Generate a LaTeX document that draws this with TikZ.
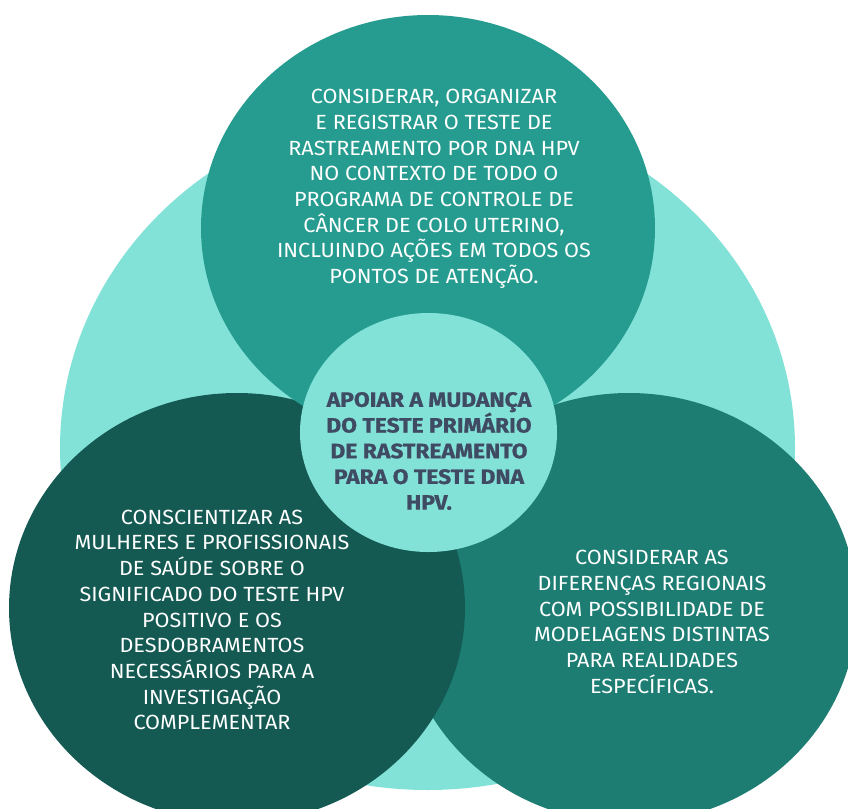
\documentclass[tikz,border=0pt]{standalone}
\usepackage{fontspec}
\setmainfont[FakeStretch=1.055]{Fira Sans}
\newfontfamily\centfont[FakeStretch=1.1, BoldFeatures={FakeBold=0.8}]{Fira Sans}
\usetikzlibrary{shapes.geometric}
\definecolor{bigc}{HTML}{83E2D8}
\definecolor{topc}{HTML}{269C90}
\definecolor{leftc}{HTML}{145A53}
\definecolor{rightc}{HTML}{1D7D73}
\definecolor{centc}{HTML}{83E2D8}
\definecolor{centtext}{HTML}{3F4A63}
\begin{document}
\begin{tikzpicture}[x=1pt,y=-1pt,
  disc/.style={ellipse, inner sep=0pt, draw=none},
  txt/.style={align=center, text=white, inner sep=0pt,
    font={\fontsize{20.5}{25.7}\selectfont}},
  ctxt/.style={align=center, text=centtext, inner sep=0pt,
    font={\centfont\fontsize{20.8}{25.7}\selectfont\bfseries}}]
\useasboundingbox (0,0) rectangle (848,808);
\node[disc, fill=bigc, minimum width=735pt, minimum height=684pt] (big) at (427.5,448) {};
\node[disc, fill=rightc, minimum width=456pt, minimum height=430pt] (rightdisc) at (629,608) {};
\node[disc, fill=leftc, minimum width=456pt, minimum height=430pt] (leftdisc) at (237,608) {};
\node[disc, fill=topc, minimum width=454pt, minimum height=426pt] (topdisc) at (428,228) {};
\node[disc, fill=centc, minimum width=257pt, minimum height=239pt] (centdisc) at (428.5,432.5) {};
\node[txt] (toptext) at (434,189) {CONSIDERAR, ORGANIZAR\\E REGISTRAR O TESTE DE\\RASTREAMENTO POR DNA HPV\\NO CONTEXTO DE TODO O\\PROGRAMA DE CONTROLE DE\\CÂNCER DE COLO UTERINO,\\INCLUINDO AÇÕES EM TODOS OS\\PONTOS DE ATENÇÃO.};
\node[txt] (lefttext) at (212,620) {CONSCIENTIZAR AS\\MULHERES E PROFISSIONAIS\\DE SAÚDE SOBRE O\\SIGNIFICADO DO TESTE HPV\\POSITIVO E OS\\DESDOBRAMENTOS\\NECESSÁRIOS PARA A\\INVESTIGAÇÃO\\COMPLEMENTAR};
\node[txt] (righttext) at (652,622) {CONSIDERAR AS\\DIFERENÇAS REGIONAIS\\COM POSSIBILIDADE DE\\MODELAGENS DISTINTAS\\PARA REALIDADES\\ESPECÍFICAS.};
\node[ctxt] (centtextnode) at (429,451) {APOIAR A MUDANÇA\\DO TESTE PRIMÁRIO\\DE RASTREAMENTO\\PARA O TESTE DNA\\HPV.};
\end{tikzpicture}
\end{document}
